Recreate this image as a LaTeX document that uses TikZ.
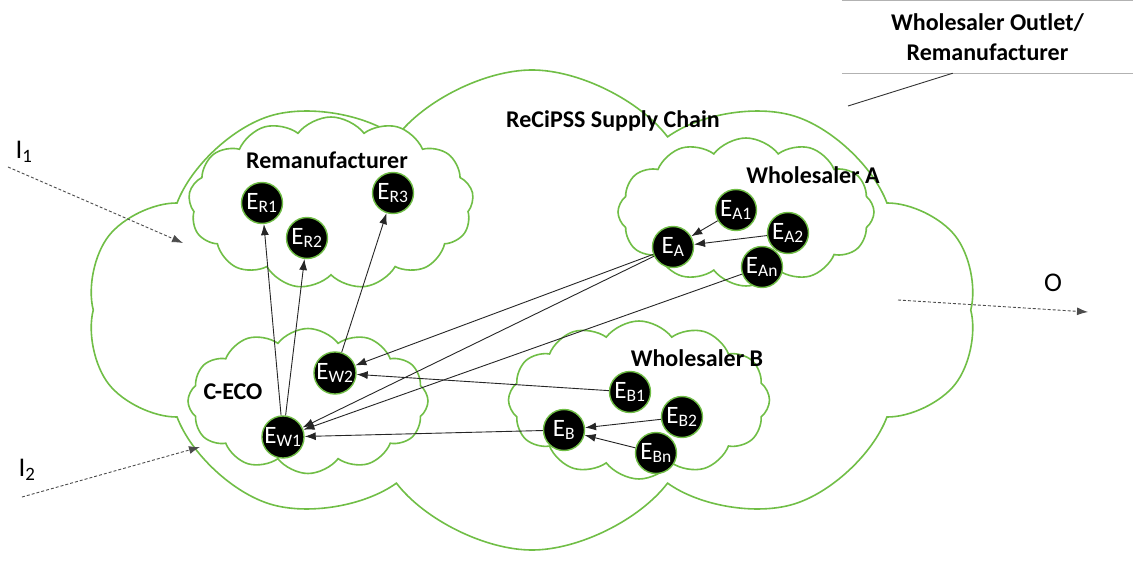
\documentclass[tikz,border=0pt]{standalone}
\usepackage{fontspec}
\setmainfont{Carlito}
\usetikzlibrary{positioning,arrows.meta,shapes.symbols}
\definecolor{leaf}{RGB}{112,190,70}

\begin{document}
\begin{tikzpicture}[x=1pt,y=-1pt,
  grp/.style={cloud,cloud puffs=#1,cloud puff arc=105,cloud ignores aspect,draw=leaf,line width=1.6pt,fill=white,inner sep=0pt},
  ent/.style={circle,fill=black,draw=leaf,line width=1.4pt,minimum size=41pt,inner sep=0pt,text=white,font=\fontsize{25}{26}\selectfont},
  lab/.style={font=\bfseries\fontsize{24}{28}\selectfont},
  flow/.style={-{Latex[length=11pt,width=8pt]},line width=0.9pt,black!85},
  io/.style={flow,densely dashed,black!70}]
\useasboundingbox (0,0) rectangle (1133,567);
% clouds
\node[grp=10,minimum width=890pt,minimum height=480pt] (chain) at (532,310) {};
\node[grp=13,minimum width=285pt,minimum height=172pt] (reman) at (331,203) {};
\node[grp=12,minimum width=256pt,minimum height=148pt] (wsa) at (746,212) {};
\node[grp=12,minimum width=240pt,minimum height=145pt] (ceco) at (308,401) {};
\node[grp=12,minimum width=261pt,minimum height=158pt] (wsb) at (639,400) {};
% labels
\node[lab] (chainlab) at (613,121) {ReCiPSS Supply Chain};
\node[lab] (remanlab) at (327,160) {Remanufacturer};
\node[lab] (wsalab) at (813,175) {Wholesaler A};
\node[lab] (cecolab) at (233,392) {C-ECO};
\node[lab] (wsblab) at (697,358) {Wholesaler B};
% entities
\foreach \n/\x/\y in {R1/262/203,R2/307/238,R3/393/193,A1/736/210,A2/788/233,
  A/673/247,An/762/267,W2/335/373,W1/283/437,B1/630/392,B2/682/417,B/564/430,Bn/656/453}
  \node[ent] (E\n) at (\x,\y) {E\textsubscript{\n}};
% flows
\draw[flow] (EW1) -- (ER1);
\draw[flow] (EW1) -- (ER2);
\draw[flow] (EW2) -- (ER3);
\draw[flow] (EA1) -- (EA);
\draw[flow] (EA2) -- (EA);
\draw[flow] (EA) -- (EW2);
\draw[flow] (EA) -- (EW1);
\draw[flow] (EAn) -- (EW1);
\draw[flow] (EB1) -- (EW2);
\draw[flow] (EB) -- (EW1);
\draw[flow] (EB2) -- (EB);
\draw[flow] (EBn) -- (EB);
% inputs and output
\node[font=\fontsize{27}{30}\selectfont] (in1) at (24,152) {I\textsubscript{1}};
\node[font=\fontsize{27}{30}\selectfont] (in2) at (27,470) {I\textsubscript{2}};
\node[font=\fontsize{27}{30}\selectfont] (out) at (1053,283) {O};
\coordinate (in1s) at (8,167);
\coordinate (in1e) at (183,243);
\coordinate (in2s) at (22,497);
\coordinate (in2e) at (200,447);
\coordinate (outs) at (898,300);
\coordinate (oute) at (1088,312);
\draw[io] (in1s) -- (in1e);
\draw[io] (in2s) -- (in2e);
\draw[io] (outs) -- (oute);
% callout
\node[lab,align=center,minimum width=291pt,minimum height=72pt,inner sep=0pt] (note) at (987.5,37)
  {Wholesaler Outlet/\\[2pt]Remanufacturer};
\draw[black!30,line width=0.9pt] (note.north west) -- (note.north east);
\draw[black!30,line width=0.9pt] (note.south west) -- (note.south east);
\coordinate (notetip) at (848,106);
\draw[black!80,line width=0.9pt] (note.south west) ++(111,0) -- (notetip);
\end{tikzpicture}
\end{document}
